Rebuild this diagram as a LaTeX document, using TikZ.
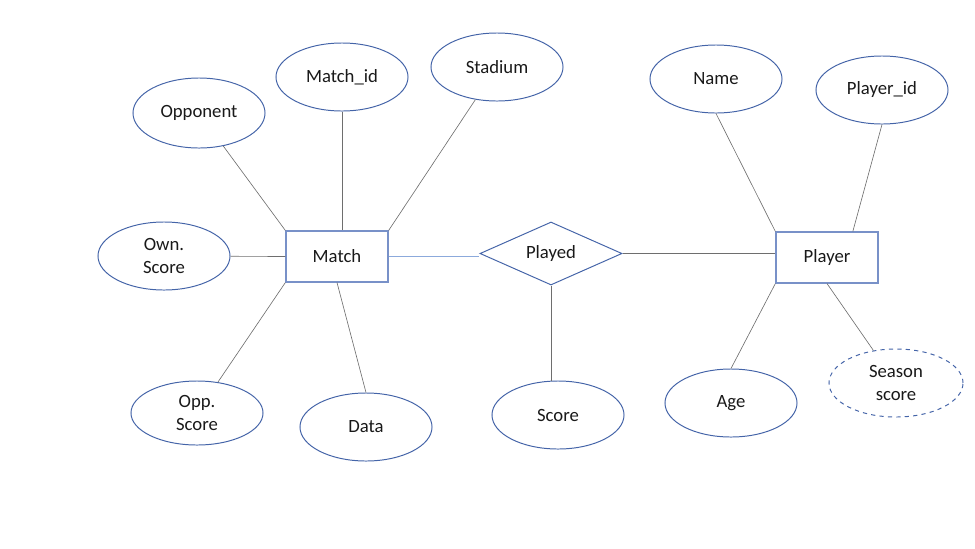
\documentclass[tikz,border=0pt]{standalone}
\usepackage{fontspec}
\setmainfont{Carlito}
\usetikzlibrary{shapes.geometric,calc}
\definecolor{attrblue}{RGB}{68,100,168}
\definecolor{boxblue}{RGB}{120,145,200}
\definecolor{linkgray}{RGB}{110,110,110}
\definecolor{linkblue}{RGB}{140,170,220}
\definecolor{txt}{RGB}{25,25,25}
\begin{document}
\begin{tikzpicture}[
  x=0.025cm, y=-0.025cm,
  every node/.style={font=\fontsize{13.3}{17}\selectfont, text=txt, align=center, inner sep=0pt},
  attr/.style={ellipse, draw=attrblue, line width=0.7pt, minimum width=3.3cm, minimum height=1.7cm},
  entity/.style={rectangle, draw=boxblue, line width=0.9pt, minimum width=2.55cm, minimum height=1.27cm},
  rel/.style={diamond, draw=attrblue, line width=0.7pt, aspect=2.25, minimum width=3.55cm, minimum height=1.575cm},
  link/.style={draw=linkgray, line width=0.45pt}
]
  \useasboundingbox (0,0) rectangle (975,548);

  % entities and relationship
  \node[entity] (match)  at (337,256.5) {Match};
  \node[entity] (player) at (827,257.5) {Player};
  \node[rel]    (played) at (551,253.5) {Played};

  % attributes of Match
  \node[attr, minimum height=1.75cm] (opponent) at (199,113) {Opponent};
  \node[attr] (matchid)  at (342,77)  {Match\_id};
  \node[attr] (stadium)  at (497,67)  {Stadium};
  \node[attr] (ownscore) at (164,256) {Own.\\Score};
  \node[attr, minimum height=1.6cm] (oppscore) at (197,413) {Opp.\\Score};
  \node[attr] (data)     at (366,427) {Data};

  % attribute of Played
  \node[attr] (score) at (558,415) {Score};

  % attributes of Player
  \node[attr] (name)     at (716,79)  {Name};
  \node[attr] (playerid) at (882,90)  {Player\_id};
  \node[attr] (age)      at (731,403) {Age};
  \node[attr, dashed, minimum width=3.35cm] (season) at (896,383) {Season\\score};

  % connectors
  \draw[link] (opponent) -- (match.north west);
  \draw[link] (matchid) -- (matchid|-match.north);
  \draw[link] (stadium) -- (match.north east);
  \draw[link] (ownscore) -- (match.west);
  \draw[link] (oppscore) -- (match.south west);
  \draw[link] (match.south) -- (data.north);
  \draw[draw=linkblue, line width=0.5pt] (match.east) -- (match.east-|played.west);
  \draw[link] (played.east) -- (played.east-|player.west);
  \draw[link] (played.south) -- (played.south|-score.north);
  \draw[link] (name.south) -- (player.north west);
  \draw[link] (playerid.south) -- ($(player.north)!0.5!(player.north east)$);
  \draw[link] (age.north) -- (player.south west);
  \draw[link] (player.south) -- (season);
\end{tikzpicture}
\end{document}
